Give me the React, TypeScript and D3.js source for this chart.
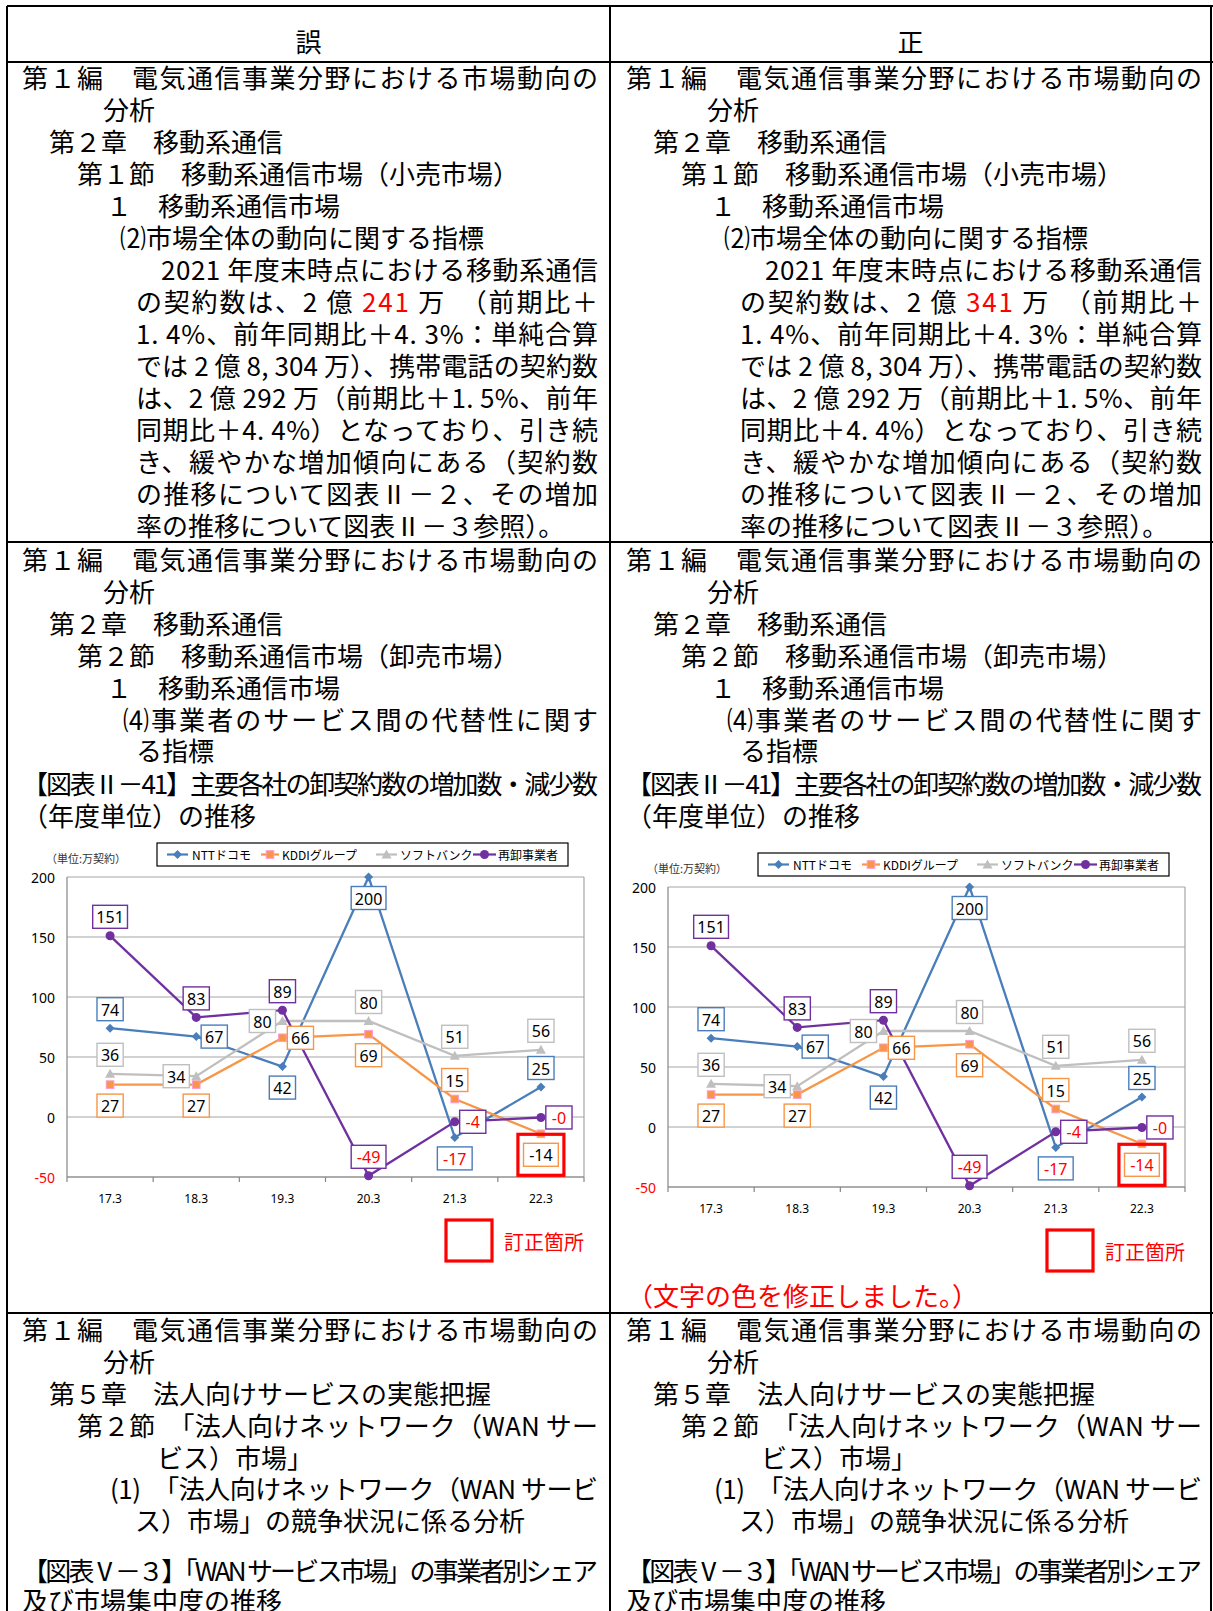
import React from 'react';
import * as d3 from 'd3';

const categories = ['17.3', '18.3', '19.3', '20.3', '21.3', '22.3'];
const nttValues = [74, 67, 42, 200, -17, 25];
const kddiValues = [27, 27, 66, 69, 15, -14];
const softbankValues = [36, 34, 80, 80, 51, 56];
const resellerValues = [151, 83, 89, -49, -4, -0.4];
const seriesNames = ['NTTドコモ', 'KDDIグループ', 'ソフトバンク', '再卸事業者'];
const yTicks = [200, 150, 100, 50, 0, -50];

// label placement (t=above, b=below, r=right, l=left)
const nttLabelPos = ['t', 'r', 'b', 'b', 'b', 't'];
const kddiLabelPos = ['b', 'b', 'r', 'b', 't', 'b'];
const sbLabelPos = ['t', 'l', 'l', 't', 't', 't'];
const resLabelPos = ['t', 't', 't', 't', 'r', 'r'];

const JP = '"Noto Sans CJK JP", "Noto Sans", sans-serif';
const NUM = '"Noto Sans", "Open Sans", sans-serif';

type Series = { name: string; values: number[]; color: string; marker: string; pos: string[]; markerStroke: string };
const series: Series[] = [
  { name: seriesNames[0], values: nttValues, color: '#4A7EBB', marker: 'diamond', pos: nttLabelPos, markerStroke: '#4A7EBB' },
  { name: seriesNames[1], values: kddiValues, color: '#F79646', marker: 'square', pos: kddiLabelPos, markerStroke: '#FF99CC' },
  { name: seriesNames[2], values: softbankValues, color: '#BFBFBF', marker: 'triangle', pos: sbLabelPos, markerStroke: '#BFBFBF' },
  { name: seriesNames[3], values: resellerValues, color: '#7030A0', marker: 'circle', pos: resLabelPos, markerStroke: '#7030A0' },
];

function fmt(v: number) {
  const r = Math.round(v);
  if (r === 0 && v < 0) return '-0';
  return String(r);
}

function Marker({ type, x, y, fill, stroke }: any) {
  if (type === 'diamond') return <path d={`M${x},${y - 4.5}L${x + 4.5},${y}L${x},${y + 4.5}L${x - 4.5},${y}Z`} fill={fill} />;
  if (type === 'square') return <rect x={x - 3.8} y={y - 3.8} width={7.6} height={7.6} fill={fill} stroke={stroke} strokeWidth={1} />;
  if (type === 'triangle') return <path d={`M${x},${y - 5}L${x + 5},${y + 4}L${x - 5},${y + 4}Z`} fill={fill} />;
  return <circle cx={x} cy={y} r={4.5} fill={fill} />;
}

function Chart({ ox, oy, fixed }: { ox: number; oy: number; fixed: boolean }) {
  const W = 517, H = 300;
  const x = d3.scaleBand().domain(categories).range([0, W]).padding(0);
  const y = d3.scaleLinear().domain([-50, 200]).range([H, 0]);
  const cx = (c: string) => (x(c) as number) + x.bandwidth() / 2;
  const line = d3.line<number>().x((_, i) => cx(categories[i])).y((d) => y(d));
  const legendX = 90, legendY = -34;
  const legItems = [
    { l0: 10, l1: 31, t: 35 },
    { l0: 104, l1: 122, t: 125 },
    { l0: 219, l1: 240, t: 243 },
    { l0: 316, l1: 339, t: 341 },
  ];
  const labels: any[] = [];
  series.forEach((s, si) => {
    s.values.forEach((v, i) => {
      const px = cx(categories[i]);
      const py = y(v);
      const p = s.pos[i];
      let lx = px, ly = py;
      if (p === 't') ly = py - 19;
      if (p === 'b') ly = py + 21;
      if (p === 'r') lx = px + 18;
      if (p === 'l') lx = px - 20;
      const txt = fmt(v);
      let red = v < 0;
      if (!fixed && si === 1 && i === 5) red = false;
      labels.push({ lx, ly, txt, red, color: s.color, key: `${si}-${i}`, hl: si === 1 && i === 5 });
    });
  });
  return (
    <g transform={`translate(${ox},${oy})`}>
      <text x={-21} y={-19} fontSize={11} fontFamily={JP} fill="#333" dominantBaseline="central">（単位:万契約）</text>
      <rect x={legendX} y={legendY} width={411} height={23} fill="#fff" stroke="#000" strokeWidth={1.2} />
      {series.map((s, i) => {
        const it = legItems[i];
        const ly = legendY + 11.5;
        return (
          <g key={s.name}>
            <line x1={legendX + it.l0} x2={legendX + it.l1} y1={ly} y2={ly} stroke={s.color} strokeWidth={2.2} />
            <Marker type={s.marker} x={legendX + (it.l0 + it.l1) / 2} y={ly} fill={s.color} stroke={s.markerStroke} />
            <text x={legendX + it.t} y={ly} fontSize={12} fontFamily={JP} fill="#000" dominantBaseline="central">{s.name}</text>
          </g>
        );
      })}
      {yTicks.map((t) => (
        <line key={t} x1={0} x2={W} y1={y(t)} y2={y(t)} stroke="#A6A6A6" strokeWidth={1.2} />
      ))}
      <line x1={W} x2={W} y1={0} y2={H} stroke="#A6A6A6" strokeWidth={1.2} />
      <line x1={0} x2={0} y1={0} y2={H + 5} stroke="#868686" strokeWidth={1.2} />
      <line x1={0} x2={W} y1={H} y2={H} stroke="#868686" strokeWidth={1.2} />
      {categories.map((c) => (
        <line key={c} x1={(x(c) as number) + x.bandwidth()} x2={(x(c) as number) + x.bandwidth()} y1={H} y2={H + 5} stroke="#868686" strokeWidth={1.2} />
      ))}
      {yTicks.map((t) => (
        <text key={t} x={-12} y={y(t)} textAnchor="end" dominantBaseline="central" fontSize={14} fontFamily={NUM} fill={t < 0 ? '#FF0000' : '#000'}>{t}</text>
      ))}
      {categories.map((c) => (
        <text key={c} x={cx(c)} y={H + 21} textAnchor="middle" dominantBaseline="central" fontSize={12} fontFamily={NUM} fill="#000">{c}</text>
      ))}
      {series.map((s) => (
        <g key={s.name}>
          <path d={line(s.values) as string} fill="none" stroke={s.color} strokeWidth={2.3} />
          {s.values.map((v, i) => (
            <Marker key={i} type={s.marker} x={cx(categories[i])} y={y(v)} fill={s.color} stroke={s.markerStroke} />
          ))}
        </g>
      ))}
      {labels.map((l) => {
        const w = l.txt.length * 8.6 + 9;
        return (
          <g key={l.key}>
            <rect x={l.lx - w / 2} y={l.ly - 11.5} width={w} height={23} fill="#fff" stroke={l.color} strokeWidth={1.4} />
            <text x={l.lx} y={l.ly + 0.5} textAnchor="middle" dominantBaseline="central" fontSize={16} fontFamily={NUM} fill={l.red ? '#FF0000' : '#000'}>{l.txt}</text>
            {l.hl && <rect x={l.lx - 23} y={l.ly - 20.5} width={46} height={41} fill="none" stroke="#FF0000" strokeWidth={3.2} />}
          </g>
        );
      })}
      <rect x={379} y={343} width={46} height={41} fill="none" stroke="#FF0000" strokeWidth={3.2} />
      <text x={437} y={364} fontSize={20} fontFamily={JP} fill="#FF0000" dominantBaseline="central">訂正箇所</text>
    </g>
  );
}

type DocLine = { x: number; y: number; t: string; j?: boolean };

const row1 = (num: string): DocLine[] => [
  { x: 22, y: 76, t: '第１編　電気通信事業分野における市場動向の', j: true },
  { x: 103, y: 108, t: '分析' },
  { x: 49, y: 140, t: '第２章　移動系通信' },
  { x: 77, y: 172, t: '第１節　移動系通信市場（小売市場）' },
  { x: 106, y: 204, t: '１　移動系通信市場' },
  { x: 120, y: 236, t: '⑵市場全体の動向に関する指標' },
  { x: 161, y: 268, t: '2021 年度末時点における移動系通信', j: true },
  { x: 136, y: 300, t: `の契約数は、2 億 |${num}| 万　（前期比＋`, j: true },
  { x: 136, y: 332, t: '1. 4%、前年同期比＋4. 3%：単純合算', j: true },
  { x: 136, y: 364, t: 'では 2 億 8, 304 万）、携帯電話の契約数', j: true },
  { x: 136, y: 396, t: 'は、2 億 292 万（前期比＋1. 5%、前年', j: true },
  { x: 136, y: 428, t: '同期比＋4. 4%）となっており、引き続', j: true },
  { x: 136, y: 460, t: 'き、緩やかな増加傾向にある（契約数', j: true },
  { x: 136, y: 492, t: 'の推移について図表Ⅱ－２、その増加', j: true },
  { x: 136, y: 524, t: '率の推移について図表Ⅱ－３参照）。' },
];

const row2: DocLine[] = [
  { x: 22, y: 558, t: '第１編　電気通信事業分野における市場動向の', j: true },
  { x: 103, y: 590, t: '分析' },
  { x: 49, y: 622, t: '第２章　移動系通信' },
  { x: 77, y: 654, t: '第２節　移動系通信市場（卸売市場）' },
  { x: 106, y: 686, t: '１　移動系通信市場' },
  { x: 123, y: 718, t: '⑷事業者のサービス間の代替性に関す', j: true },
  { x: 136, y: 749, t: 'る指標' },
  { x: 22, y: 782, t: '【図表Ⅱ－41】主要各社の卸契約数の増加数・減少数', j: true },
  { x: 22, y: 814, t: '（年度単位）の推移' },
];

const row3: DocLine[] = [
  { x: 22, y: 1328, t: '第１編　電気通信事業分野における市場動向の', j: true },
  { x: 103, y: 1360, t: '分析' },
  { x: 49, y: 1392, t: '第５章　法人向けサービスの実態把握' },
  { x: 77, y: 1424, t: '第２節　「法人向けネットワーク（WAN サー', j: true },
  { x: 157, y: 1456, t: 'ビス）市場」' },
  { x: 110, y: 1487, t: '(1)　「法人向けネットワーク（WAN サービ', j: true },
  { x: 135, y: 1519, t: 'ス）市場」の競争状況に係る分析' },
  { x: 22, y: 1569, t: '【図表Ⅴ－３】「WAN サービス市場」の事業者別シェア', j: true },
  { x: 22, y: 1599, t: '及び市場集中度の推移' },
];

function DocText({ lines, dx, right }: { lines: DocLine[]; dx: number; right: number }) {
  return (
    <g>
      {lines.map((l, i) => {
        const parts = l.t.split('|');
        const props: any = {};
        if (l.j) {
          props.textLength = right - (l.x + dx);
          props.lengthAdjust = 'spacing';
        }
        return (
          <text key={i} x={l.x + dx} y={l.y} fontSize={26} fontFamily={JP} fill="#000" dominantBaseline="central" style={{ whiteSpace: 'pre' }} {...props}>
            {parts.map((p, k) => (
              <tspan key={k} fill={k % 2 === 1 ? '#FF0000' : '#000'}>{p}</tspan>
            ))}
          </text>
        );
      })}
    </g>
  );
}

export default function App() {
  const L = 7, R = 1211, MID = 610, TOP = 6;
  return (
    <svg width={1213} height={1611} viewBox="0 0 1213 1611" style={{ position: 'absolute', left: 0, top: 0, background: '#fff' }}>
      <rect x={0} y={0} width={1213} height={1611} fill="#fff" />
      <line x1={L} x2={R + 2} y1={TOP} y2={TOP} stroke="#000" strokeWidth={2} />
      <line x1={L} x2={R + 2} y1={62} y2={62} stroke="#000" strokeWidth={2} />
      <line x1={L} x2={R + 2} y1={542} y2={542} stroke="#000" strokeWidth={2} />
      <line x1={L} x2={R + 2} y1={1313} y2={1313} stroke="#000" strokeWidth={2} />
      <line x1={L} x2={L} y1={TOP} y2={1611} stroke="#000" strokeWidth={2} />
      <line x1={MID} x2={MID} y1={TOP} y2={1611} stroke="#000" strokeWidth={2} />
      <line x1={R} x2={R} y1={TOP} y2={1611} stroke="#000" strokeWidth={2} />
      <text x={(L + MID) / 2} y={40} textAnchor="middle" dominantBaseline="central" fontSize={26} fontFamily={JP}>誤</text>
      <text x={(MID + R) / 2} y={40} textAnchor="middle" dominantBaseline="central" fontSize={26} fontFamily={JP}>正</text>
      <DocText lines={row1('241')} dx={0} right={598} />
      <DocText lines={row1('341')} dx={604} right={1202} />
      <DocText lines={row2} dx={0} right={598} />
      <DocText lines={row2} dx={604} right={1202} />
      <DocText lines={row3} dx={0} right={598} />
      <DocText lines={row3} dx={604} right={1202} />
      <Chart ox={67} oy={877} fixed={false} />
      <Chart ox={668} oy={887} fixed={true} />
      <text x={627} y={1294} fontSize={26} fontFamily={JP} fill="#FF0000" dominantBaseline="central">（文字の色を修正しました。）</text>
    </svg>
  );
}
